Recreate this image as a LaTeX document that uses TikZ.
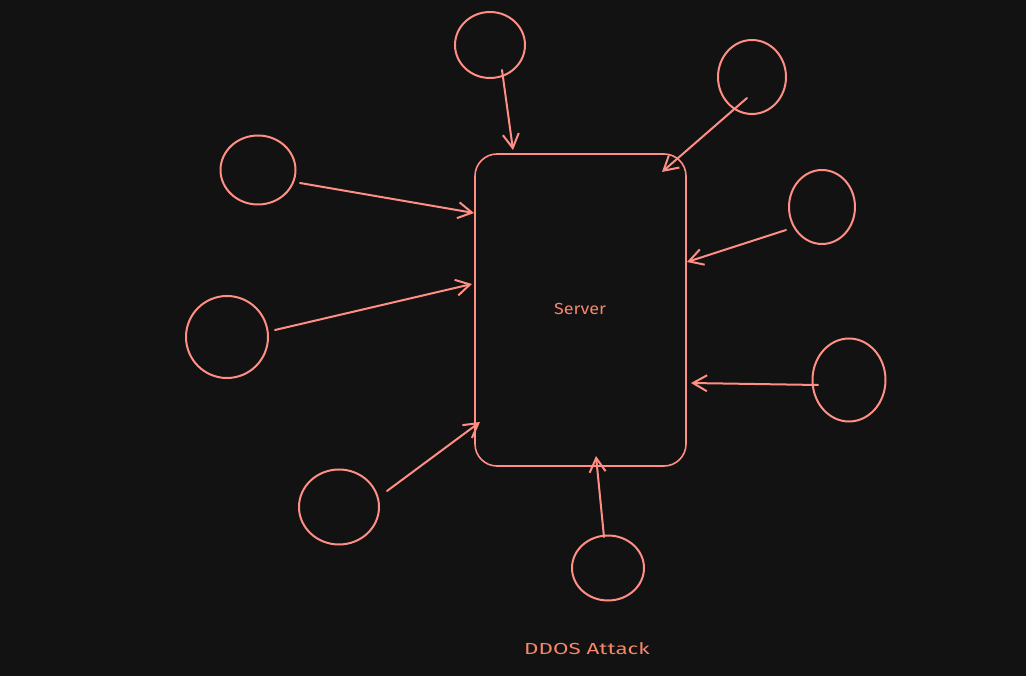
\documentclass[tikz,border=0pt]{standalone}
\usepackage{fontspec}
\usepackage{graphicx}
\setmainfont{Fira Sans}
\usetikzlibrary{arrows.meta,shapes.geometric}
\definecolor{bg}{HTML}{121212}
\definecolor{ink}{HTML}{FF8E85}
\definecolor{txt}{HTML}{F5866A}
\tikzset{
  attacker/.style={draw=ink, line width=2pt, ellipse, inner sep=0pt},
  server/.style={draw=ink, line width=1.6pt, rounded corners=22pt, inner sep=0pt},
  hit/.style={draw=ink, line width=2pt, line cap=round, -{Straight Barb[length=14pt,width=16pt,line width=2pt]}},
  lbl/.style={text=txt, font=\fontsize{16pt}{18pt}\selectfont}
}
\begin{document}
\begin{tikzpicture}[x=1pt,y=-1pt]
\fill[bg] (0,0) rectangle (1026,676);
\useasboundingbox (0,0) rectangle (1026,676);
% server
\node[server, minimum width=211pt, minimum height=312pt] (srv) at (580.5,310) {};
\node[lbl] (srvlbl) at (580,309) {\scalebox{1.12}[1]{Server}};
% attackers
\node[attacker, minimum width=70pt, minimum height=66pt] (c1) at (490,45) {};
\node[attacker, minimum width=68pt, minimum height=74pt] (c2) at (752,77) {};
\node[attacker, minimum width=75pt, minimum height=69pt] (c3) at (258,170) {};
\node[attacker, minimum width=66pt, minimum height=74pt] (c4) at (822,207) {};
\node[attacker, minimum width=82pt, minimum height=82pt] (c5) at (227,337) {};
\node[attacker, minimum width=73pt, minimum height=83pt] (c6) at (849,380) {};
\node[attacker, minimum width=80pt, minimum height=75pt] (c7) at (339,507) {};
\node[attacker, minimum width=72pt, minimum height=65pt] (c8) at (608,568) {};
% arrow end points
\coordinate (s1) at (502,70);  \coordinate (e1) at (513,150);
\coordinate (s2) at (747,98);  \coordinate (e2) at (662,172);
\coordinate (s3) at (300,183); \coordinate (e3) at (474,213);
\coordinate (s4) at (786,230); \coordinate (e4) at (687,262);
\coordinate (s5) at (275,330); \coordinate (e5) at (472,284);
\coordinate (s6) at (818,385); \coordinate (e6) at (691,383);
\coordinate (s7) at (387,491); \coordinate (e7) at (480,422);
\coordinate (s8) at (604,537); \coordinate (e8) at (596,456);
\foreach \i in {1,...,8} \draw[hit] (s\i) -- (e\i);
% title
\node[lbl] (title) at (587,649) {\scalebox{1.4}[1]{DDOS Attack}};
\end{tikzpicture}
\end{document}
